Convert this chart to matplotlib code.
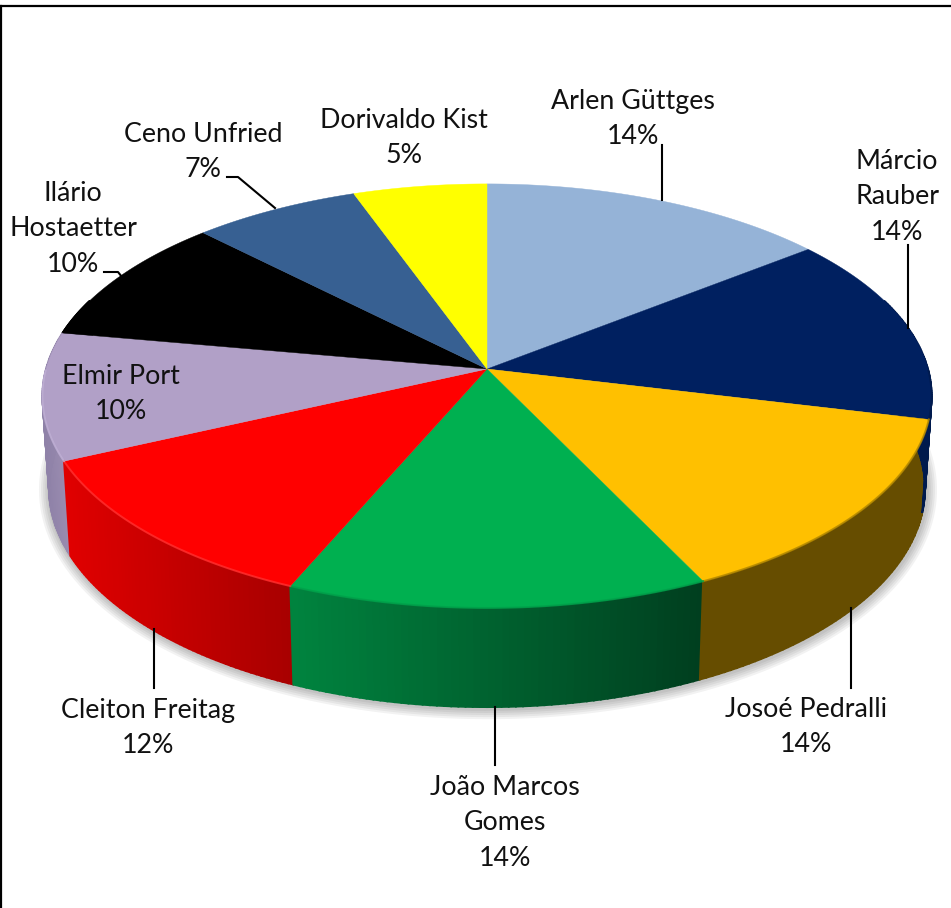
import numpy as np
import matplotlib
matplotlib.use("Agg")
import matplotlib.pyplot as plt
from matplotlib.patches import Polygon

# ==========================================
# 1. Data (clockwise from 12 o'clock)
# ==========================================
names = ["Arlen Güttges", "Márcio\nRauber", "Josoé Pedralli", "João Marcos\nGomes",
         "Cleiton Freitag", "Elmir Port", "Ilário\nHostaetter", "Ceno Unfried", "Dorivaldo Kist"]
shares = [14.4, 14.4, 14.1, 13.6, 11.7, 9.7, 9.8, 6.9, 5.5]
percent_labels = ["14%", "14%", "14%", "14%", "12%", "10%", "10%", "7%", "5%"]

top_colors = ["#95b3d7", "#002060", "#ffc000", "#00b050", "#ff0000",
              "#b1a0c7", "#000000", "#376092", "#ffff00"]
# side wall colours, left end and right end of each wall as seen on screen
side_left = ["#6f86a1", "#001a4d", "#664d00", "#00843f", "#e00000",
             "#8f82a8", "#000000", "#29486e", "#bfbf00"]
side_right = ["#6f86a1", "#001a4d", "#664d00", "#003f1f", "#a80000",
              "#9a8cb0", "#000000", "#29486e", "#bfbf00"]
rim_colors = ["#95b3d7", "#001a4d", "#b08600", "#00a04a", "#ff3030",
              "#c0b0d5", "#000000", "#376092", "#ffff00"]

# label centres and leader lines, in pixels of the 951x908 picture
label_pos = [(633, 119), (897, 197), (806, 727), (505, 823), (148, 728),
             (121, 394), (73, 229), (203, 152), (404, 138)]
leaders = [[(662, 145), (662, 200)],
           [(908, 245), (908, 328)],
           [(851, 608), (851, 688)],
           [(495, 707), (495, 765)],
           [(154, 629), (154, 688)],
           [(104, 272), (118, 272), (122, 277)],
           [(227, 177), (238, 177), (275, 208)]]

# ==========================================
# 2. Perspective projection of the disc
# ==========================================
CX, CY = 487, 369
A, B, K = 441, 208.6, 0.127
DEPTH, SX, SY = 92, 0.985, 1.03


def top_xy(theta):
    # theta in degrees, clockwise from the top of the disc
    t = np.radians(theta)
    x, y = np.sin(t), np.cos(t)
    d = 1 + K * y
    return CX + A * x / d, CY - B * y / d


def bottom_xy(theta):
    t = np.radians(theta)
    x, y = np.sin(t), np.cos(t)
    d = 1 + K * y
    return CX + SX * A * x / d, CY + DEPTH - SY * B * y / d


edges = np.concatenate([[0], np.cumsum(shares)]) / sum(shares) * 360

# ==========================================
# 3. Draw
# ==========================================
fig = plt.figure(figsize=(9.51, 9.08), dpi=100, facecolor="white")
ax = fig.add_axes([0, 0, 1, 1])
ax.set_xlim(0, 951)
ax.set_ylim(908, 0)
ax.axis("off")

# soft shadow under the wall
sh = np.linspace(72, 288, 300)
sx, sy = bottom_xy(sh)
for lw in [16, 13, 10, 7, 4]:
    ax.plot(sx + 1, sy + 1, color="black", lw=lw, alpha=0.05, solid_capstyle="round", zorder=1)

# side walls, split in thin strips for the gradient
for i in range(len(shares)):
    a0, a1 = edges[i], edges[i + 1]
    lo, hi = max(a0, 70), min(a1, 290)
    if lo >= hi:
        continue
    ths = np.linspace(lo, hi, 60)
    tx, ty = top_xy(ths)
    bx, by = bottom_xy(ths)
    c_l = np.array(matplotlib.colors.to_rgb(side_left[i]))
    c_r = np.array(matplotlib.colors.to_rgb(side_right[i]))
    x_min, x_max = tx.min(), tx.max()
    for j in range(len(ths) - 1):
        f = (tx[j] - x_min) / max(x_max - x_min, 1)
        col = c_l + (c_r - c_l) * f
        quad = [(tx[j], ty[j]), (tx[j + 1], ty[j + 1]), (bx[j + 1], by[j + 1]), (bx[j], by[j])]
        ax.add_patch(Polygon(quad, closed=True, fc=col, ec=col, lw=1.3, zorder=2 + j * 0.001))

# top face
for i in range(len(shares)):
    ths = np.linspace(edges[i], edges[i + 1], 80)
    tx, ty = top_xy(ths)
    pts = np.column_stack([np.r_[CX, tx], np.r_[CY, ty]])
    ax.add_patch(Polygon(pts, closed=True, fc=top_colors[i], ec=top_colors[i], lw=0.3, zorder=3))
    # rim highlight on the front half
    front = ths[(ths > 90) & (ths < 270)]
    if len(front) > 1:
        rx, ry = top_xy(front)
        ax.plot(rx, ry, color=rim_colors[i], lw=1.4, alpha=0.8, zorder=4)

# leader lines
for pts in leaders:
    xs, ys = zip(*pts)
    ax.plot(xs, ys, color="black", lw=1.5, zorder=5)

# labels
for name, pct, (lx, ly) in zip(names, percent_labels, label_pos):
    ax.text(lx, ly, name + "\n" + pct, ha="center", va="center", family="Lato",
            fontsize=19.3, color="#111111", linespacing=1.53, zorder=6)

# picture border, only top and left show
ax.plot([0, 951], [6, 6], color="black", lw=1.6, zorder=7)
ax.plot([1, 1], [6, 908], color="black", lw=1.6, zorder=7)

fig.savefig("out.png", dpi=100)
